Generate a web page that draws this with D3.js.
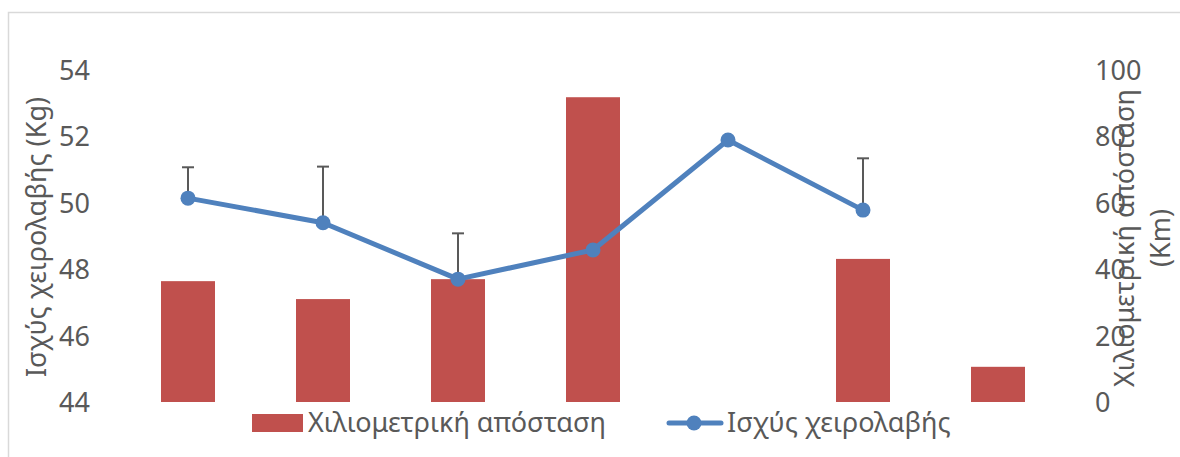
<!DOCTYPE html>
<html>
<head>
<meta charset="utf-8">
<script src="https://cdnjs.cloudflare.com/ajax/libs/d3/7.8.5/d3.min.js"></script>
<style>
  html, body { margin: 0; padding: 0; background: #fff; }
  svg { display: block; }
  text { font-family: "Noto Sans", "Open Sans", sans-serif; fill: #595959; }
</style>
</head>
<body>
<svg id="chart" width="1180" height="457"></svg>
<script>
// ---- data ----
const categories = ["1", "2", "3", "4", "5", "6", "7"];
const distanceKm = [36.4, 31.0, 37.0, 91.8, null, 43.1, 10.6];
const gripKg = [50.14, 49.4, 47.7, 48.58, 51.89, 49.78, null];
const gripErr = [0.93, 1.69, 1.38, null, null, 1.56, null];
const leftTicks = [44, 46, 48, 50, 52, 54];
const rightTicks = [0, 20, 40, 60, 80, 100];
const barName = "Χιλιομετρική απόσταση";
const lineName = "Ισχύς χειρολαβής";
const leftTitle = "Ισχύς χειρολαβής (Kg)";
const rightTitleLines = ["Χιλιομετρική απόσταση", "(Km)"];

const barColor = "#C0504D";
const lineColor = "#4F81BD";
const fontSize = 27;

const svg = d3.select("#chart");

// border (left + top visible)
svg.append("path")
  .attr("d", "M8.5,470 V12.5 H1200")
  .attr("fill", "none").attr("stroke", "#d9d9d9").attr("stroke-width", 1.5);

const x = d3.scaleBand().domain(categories).range([120.5, 1065.5]).paddingInner(0).paddingOuter(0);
const yL = d3.scaleLinear().domain([44, 54]).range([402, 70]);
const yR = d3.scaleLinear().domain([0, 100]).range([402, 70]);

const barW = x.bandwidth() * 0.4;

// bars
svg.append("g").selectAll("rect")
  .data(categories.map((c, i) => ({c, v: distanceKm[i]})).filter(d => d.v != null))
  .join("rect")
  .attr("x", d => x(d.c) + x.bandwidth() / 2 - barW / 2)
  .attr("y", d => yR(d.v))
  .attr("width", barW)
  .attr("height", d => yR(0) - yR(d.v))
  .attr("fill", barColor);

// axes (labels only)
const axL = svg.append("g").attr("transform", "translate(90,0)")
  .call(d3.axisLeft(yL).tickValues(leftTicks).tickSize(0).tickPadding(0).tickFormat(d3.format("d")));
axL.select(".domain").remove();
axL.selectAll("text").attr("font-size", fontSize).attr("fill", "#595959")
  .style("font-family", '"Noto Sans", sans-serif').attr("dy", "0.35em");

const axR = svg.append("g").attr("transform", "translate(1095,0)")
  .call(d3.axisRight(yR).tickValues(rightTicks).tickSize(0).tickPadding(0).tickFormat(d3.format("d")));
axR.select(".domain").remove();
axR.selectAll("text").attr("font-size", fontSize).attr("fill", "#595959")
  .style("font-family", '"Noto Sans", sans-serif').attr("dy", "0.35em");

// line
const pts = categories.map((c, i) => ({c, v: gripKg[i], e: gripErr[i]})).filter(d => d.v != null);
const cx = d => x(d.c) + x.bandwidth() / 2;

// error bars (plus only)
const eb = svg.append("g").attr("stroke", "#595959").attr("stroke-width", 2);
pts.filter(d => d.e != null).forEach(d => {
  eb.append("line").attr("x1", cx(d)).attr("x2", cx(d)).attr("y1", yL(d.v)).attr("y2", yL(d.v + d.e));
  eb.append("line").attr("x1", cx(d) - 6).attr("x2", cx(d) + 6).attr("y1", yL(d.v + d.e)).attr("y2", yL(d.v + d.e));
});

svg.append("path").datum(pts)
  .attr("d", d3.line().x(cx).y(d => yL(d.v)))
  .attr("fill", "none").attr("stroke", lineColor).attr("stroke-width", 5)
  .attr("stroke-linejoin", "round").attr("stroke-linecap", "round");

svg.append("g").selectAll("circle").data(pts).join("circle")
  .attr("cx", cx).attr("cy", d => yL(d.v)).attr("r", 7.5).attr("fill", lineColor);

// axis titles
svg.append("text")
  .attr("transform", "translate(37,237) rotate(-90)")
  .attr("text-anchor", "middle").attr("dy", "0.35em")
  .attr("font-size", fontSize).text(leftTitle);

const rt = svg.append("text")
  .attr("transform", "translate(1125,238) rotate(-90)")
  .attr("text-anchor", "middle").attr("font-size", fontSize);
rightTitleLines.forEach((t, i) => {
  rt.append("tspan").attr("x", 0).attr("dy", i === 0 ? "0.35em" : "1.3em").text(t);
});

// legend
const lg = svg.append("g");
lg.append("rect").attr("x", 252).attr("y", 414).attr("width", 51).attr("height", 18).attr("fill", barColor);
lg.append("text").attr("x", 308).attr("y", 432).attr("font-size", fontSize).text(barName);
lg.append("line").attr("x1", 669).attr("x2", 721).attr("y1", 423).attr("y2", 423)
  .attr("stroke", lineColor).attr("stroke-width", 5).attr("stroke-linecap", "round");
lg.append("circle").attr("cx", 694).attr("cy", 423).attr("r", 7.5).attr("fill", lineColor);
lg.append("text").attr("x", 727).attr("y", 432).attr("font-size", fontSize).text(lineName);
</script>
</body>
</html>
